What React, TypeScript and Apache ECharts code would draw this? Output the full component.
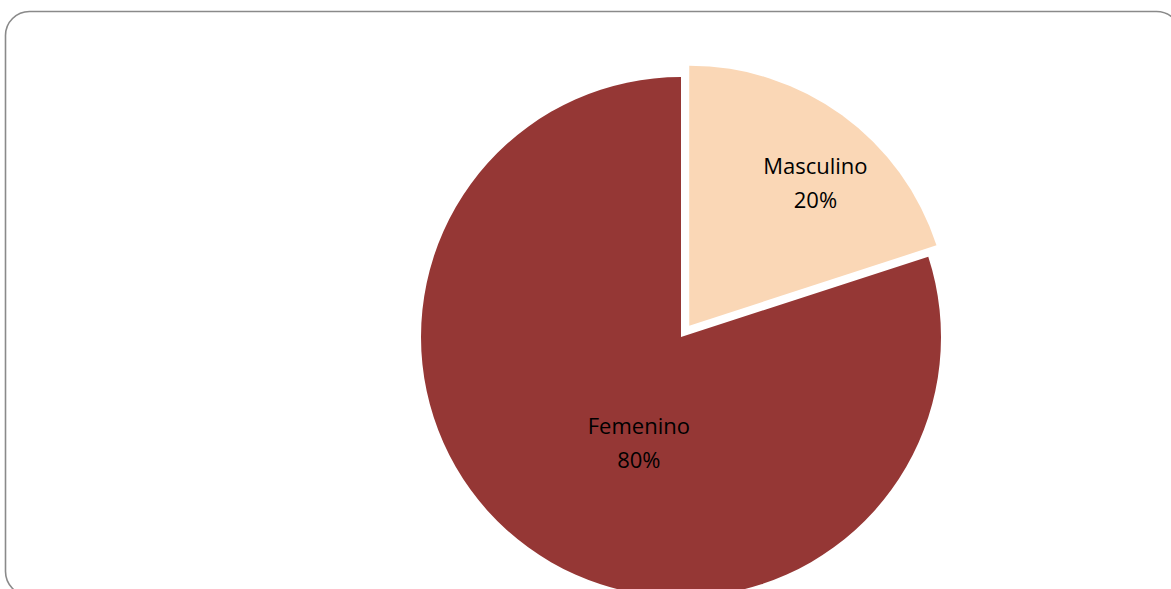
import React, { useEffect, useRef } from "react";
import * as echarts from "echarts";

const categories = ["Masculino", "Femenino"];
const values = [20, 80];
const colors = ["#FAD7B6", "#953735"];
const labelShift = [
  [48, -36],
  [36, -3],
];

export default function App() {
  const ref = useRef<HTMLDivElement>(null);
  useEffect(() => {
    const chart = echarts.init(ref.current!, null, { renderer: "svg" });
    chart.setOption({
      animation: false,
      backgroundColor: "#ffffff",
      graphic: [
        {
          type: "rect",
          shape: { x: 5.5, y: 11.5, width: 1175, height: 584, r: 24 },
          style: { fill: "none", stroke: "#8a8a8a", lineWidth: 1.6 },
          silent: true,
        },
      ],
      series: [
        {
          type: "pie",
          center: [681, 337],
          radius: [0, 260],
          startAngle: 90,
          clockwise: true,
          selectedMode: "multiple",
          selectedOffset: 14,
          label: {
            show: true,
            position: "inside",
            formatter: "{b}\n{d}%",
            fontFamily: "Open Sans",
            fontSize: 22,
            lineHeight: 34,
            color: "#000000",
          },
          labelLine: { show: false },
          emphasis: { disabled: true },
          labelLayout: (p: any) => ({
            dx: labelShift[p.dataIndex][0],
            dy: labelShift[p.dataIndex][1],
          }),
          data: categories.map((c, i) => ({
            name: c,
            value: values[i],
            selected: i === 0,
            itemStyle: { color: colors[i] },
          })),
        },
      ],
    });
    return () => chart.dispose();
  }, []);
  return (
    <div
      ref={ref}
      style={{ position: "fixed", left: 0, top: 0, width: 1171, height: 589 }}
    />
  );
}
